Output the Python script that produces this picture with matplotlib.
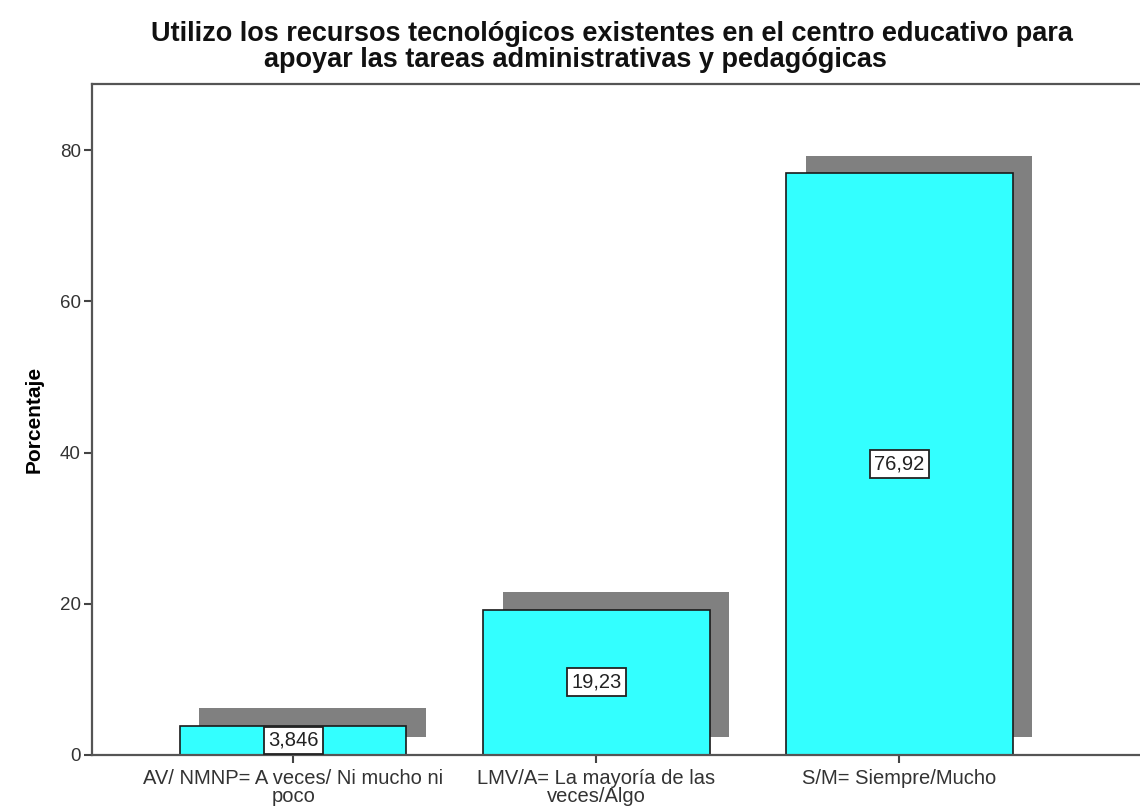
import matplotlib
matplotlib.use("Agg")
import matplotlib.pyplot as plt
import numpy as np

categories = ["AV/ NMNP= A veces/ Ni mucho ni\npoco",
              "LMV/A= La mayoría de las\nveces/Algo",
              "S/M= Siempre/Mucho"]
values = [3.846, 19.23, 76.92]
value_labels = ["3,846", "19,23", "76,92"]
yticks = [0, 20, 40, 60, 80]
title_lines = ["Utilizo los recursos tecnológicos existentes en el centro educativo para",
               "apoyar las tareas administrativas y pedagógicas"]

plt.rcParams['font.family'] = ['Liberation Sans', 'DejaVu Sans']

fig = plt.figure(figsize=(11.4, 8.08), dpi=100)
ax = fig.add_axes([0.0807, 0.0656, 0.937, 0.830])

x = np.arange(len(categories))
width = 0.747
dx, dy = 0.064, 2.35

ax.bar(x + dx, values, width=width, bottom=dy, color="#808080", edgecolor="none", zorder=1)
ax.bar(x, values, width=width, color="#33FFFF", edgecolor="#1a1a1a", linewidth=1.2, zorder=2)

for xi, v, lab in zip(x, values, value_labels):
    ax.text(xi, v / 2, lab, ha="center", va="center", fontsize=14.5, color="#222222", zorder=3,
            bbox=dict(boxstyle="square,pad=0.22", facecolor="white", edgecolor="#222222", linewidth=1.3))

ax.set_xlim(-0.664, 2.86)
ax.set_ylim(0, 88.7)
ax.set_yticks(yticks)
ax.set_yticklabels([str(t) for t in yticks], fontsize=13.5, color="#333333")
ax.set_xticks(x)
ax.set_xticklabels(categories, fontsize=14.5, color="#333333", linespacing=0.95)
ax.tick_params(axis="y", length=6, width=1.5, color="#444444", pad=2)
ax.tick_params(axis="x", length=6, width=1.5, color="#444444", pad=4)

for s in ["left", "top", "bottom"]:
    ax.spines[s].set_color("#555555")
    ax.spines[s].set_linewidth(1.6)
ax.spines["right"].set_visible(False)

ax.set_ylabel("Porcentaje", fontsize=15, fontweight="bold", labelpad=12)

fig.text(612 / 1140, 1 - 41 / 808, title_lines[0], ha="center", va="baseline",
         fontsize=19.5, fontweight="bold", color="#111111")
fig.text(575 / 1140, 1 - 67 / 808, title_lines[1], ha="center", va="baseline",
         fontsize=19.5, fontweight="bold", color="#111111")

fig.savefig("out.png", dpi=100)
